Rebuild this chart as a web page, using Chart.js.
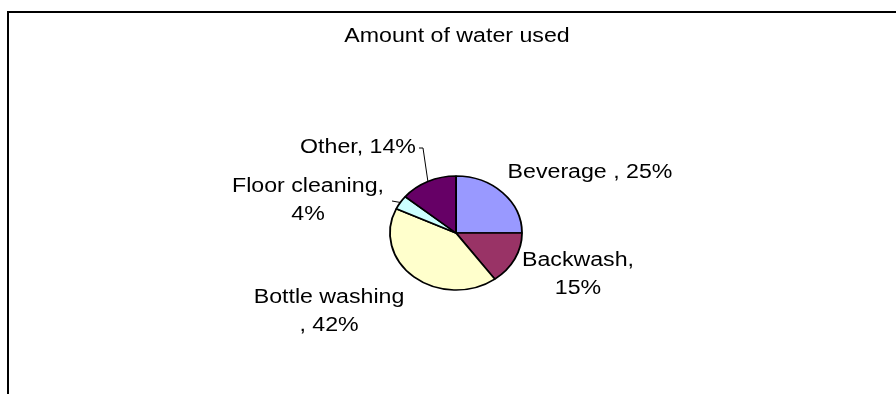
<!DOCTYPE html>
<html>
<head>
<meta charset="utf-8">
<script src="https://cdn.jsdelivr.net/npm/chart.js@4/dist/chart.umd.min.js"></script>
<style>
  body { margin: 0; background: #fff; }
  #wrap { position: relative; width: 896px; height: 394px; overflow: hidden; }
  #frame { position: absolute; left: 7px; top: 11px; right: 0; bottom: 0;
           border-left: 2px solid #000; border-top: 2px solid #000; }
  canvas { position: absolute; left: 0; top: 0; }
</style>
</head>
<body>
<div id="wrap">
  <div id="frame"></div>
  <canvas id="chart" width="896" height="394"></canvas>
</div>
<script>
// data
const categories = ['Beverage ', 'Backwash', 'Bottle washing', 'Floor cleaning', 'Other'];
const shares = [25, 15, 42, 4, 14];
const sliceColors = ['#9999FF', '#993366', '#FFFFCC', '#CCFFFF', '#660066'];
const chartTitle = 'Amount of water used';

// the excel picture is stretched sideways
const stretchX = 1.158;
const fontCss = '20px "Liberation Sans", Arial, sans-serif';

// label position (first line centre), wrapping, optional leader start
const labelLayout = [
    { x: 590, y: 172, wrap: 'none' },
    { x: 578, y: 260, wrap: 'after' },
    { x: 329, y: 297, wrap: 'before' },
    { x: 308, y: 186, wrap: 'after', leader: [[392, 201]] },
    { x: 358, y: 147, wrap: 'none', leader: [[419, 148], [423, 148]] },
];
const lineGap = 28.5;

function labelLines(i) {
    const name = categories[i], val = shares[i] + '%';
    const w = labelLayout[i].wrap;
    if (w === 'after') return [name + ',', val];
    if (w === 'before') return [name, ', ' + val];
    return [name + ', ' + val];
}

function drawStretchedText(ctx, txt, x, y) {
    ctx.save();
    ctx.translate(x, y);
    ctx.scale(stretchX, 1);
    ctx.fillText(txt, 0, 0);
    ctx.restore();
}

const ellipsePie = {
    id: 'ellipsePie',
    beforeDatasetsDraw(chart) {
        const arc = chart.getDatasetMeta(0).data[0];
        const ctx = chart.ctx;
        ctx.save();
        ctx.translate(arc.x, arc.y);
        ctx.scale(stretchX, 1);
        ctx.translate(-arc.x, -arc.y);
    },
    afterDatasetsDraw(chart) {
        chart.ctx.restore();
    }
};

const pieText = {
    id: 'pieText',
    afterDraw(chart) {
        const ctx = chart.ctx;
        const arcs = chart.getDatasetMeta(0).data;
        ctx.save();
        ctx.font = fontCss;
        ctx.fillStyle = '#000';
        ctx.textAlign = 'center';
        ctx.textBaseline = 'middle';
        drawStretchedText(ctx, chartTitle, 457, 36);

        labelLayout.forEach((lay, i) => {
            labelLines(i).forEach((ln, k) => drawStretchedText(ctx, ln, lay.x, lay.y + k * lineGap));

            if (lay.leader) {
                // leader ends on the slice edge, at the middle of its angle
                const a = arcs[i];
                const mid = (a.startAngle + a.endAngle) / 2;
                const ex = a.x + Math.cos(mid) * a.outerRadius * stretchX;
                const ey = a.y + Math.sin(mid) * a.outerRadius;
                ctx.beginPath();
                ctx.strokeStyle = '#000';
                ctx.lineWidth = 1;
                lay.leader.forEach(([px, py], k) => k ? ctx.lineTo(px, py) : ctx.moveTo(px, py));
                ctx.lineTo(ex, ey);
                ctx.stroke();
            }
        });
        ctx.restore();
    }
};

new Chart(document.getElementById('chart'), {
    type: 'pie',
    data: {
        labels: categories,
        datasets: [{
            data: shares,
            backgroundColor: sliceColors,
            borderColor: '#000',
            borderWidth: 1.6,
            radius: 57,
        }],
    },
    options: {
        responsive: false,
        animation: false,
        layout: { padding: { left: 398, right: 382, top: 175, bottom: 103 } },
        plugins: {
            legend: { display: false },
            tooltip: { enabled: false },
        },
    },
    plugins: [ellipsePie, pieText],
});
</script>
</body>
</html>
